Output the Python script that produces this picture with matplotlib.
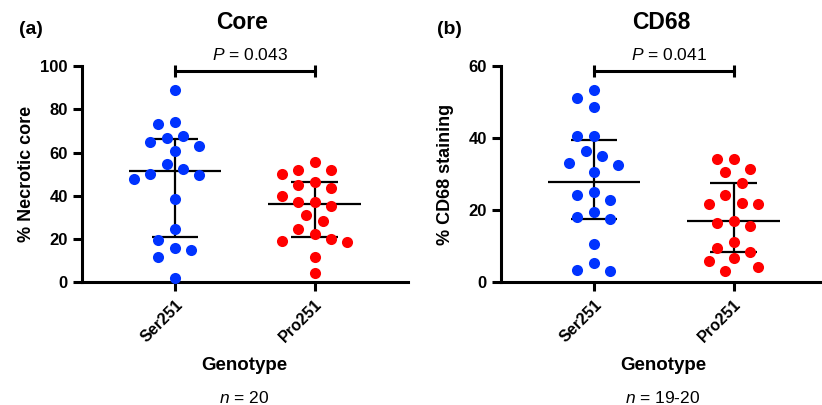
import numpy as np
import matplotlib
matplotlib.use("Agg")
import matplotlib.pyplot as plt

plt.rcParams['font.family'] = ['Liberation Sans', 'DejaVu Sans']
plt.rcParams['mathtext.fontset'] = 'custom'
plt.rcParams['mathtext.it'] = 'Liberation Sans:italic'
plt.rcParams['mathtext.rm'] = 'Liberation Sans'

# data
genotypes = ["Ser251", "Pro251"]
core_ser = [88.9, 73.1, 74.1, 66.7, 67.7, 63.0, 65.0, 60.5, 54.5, 52.6,
            50.2, 49.7, 47.7, 38.7, 24.7, 19.8, 15.0, 15.9, 11.9, 2.0]
core_pro = [55.7, 52.0, 52.0, 46.6, 50.0, 44.9, 43.4, 40.1, 37.0, 37.3,
            35.5, 31.0, 28.4, 24.7, 22.5, 18.8, 20.2, 19.0, 11.7, 4.2]
cd68_ser = [53.3, 51.2, 48.6, 40.6, 40.6, 36.5, 35.0, 33.1, 32.5, 30.6,
            24.2, 25.1, 22.9, 19.4, 17.5, 18.1, 10.6, 5.4, 3.1, 3.4]
cd68_pro = [34.3, 34.3, 31.5, 30.7, 27.6, 24.2, 21.6, 21.6, 22.0, 16.9,
            15.6, 16.5, 9.5, 11.1, 8.3, 5.8, 6.7, 3.1, 4.3]
titles = ["Core", "CD68"]
panel_tags = ["(a)", "(b)"]
ylabels = ["% Necrotic core", "% CD68 staining"]
p_values = ["0.043", "0.041"]
n_labels = ["20", "19-20"]
yticks = [[0, 20, 40, 60, 80, 100], [0, 20, 40, 60]]

colors = ["#0033ff", "#ff0000"]
LW = 2.2


def swarm_x(ax, pos, vals, diam=15.0, step=8.2):
    # simple beeswarm in pixel space, highest value placed first
    vals = np.asarray(vals, float)
    pts = ax.transData.transform(np.column_stack([np.full(len(vals), pos), vals]))
    x0 = pts[0, 0]
    order = np.argsort(-vals, kind="stable")
    placed = []
    xs = np.zeros(len(vals))
    for i in order:
        y = pts[i, 1]
        k = 0
        while True:
            for cand in ([0] if k == 0 else [-k, k]):
                x = x0 + cand * step
                if all((x - px) ** 2 + (y - py) ** 2 >= diam ** 2 for px, py in placed):
                    break
            else:
                k += 1
                continue
            break
        placed.append((x, y))
        xs[i] = x
    return ax.transData.inverted().transform(np.column_stack([xs, pts[:, 1]]))[:, 0]


fig = plt.figure(figsize=(8.22, 4.05), dpi=100)
W, H = 822.0, 405.0
panels = [(core_ser, core_pro), (cd68_ser, cd68_pro)]
lefts = [81.7, 500.7]

for p, (ser, pro) in enumerate(panels):
    ax = fig.add_axes([lefts[p] / W, (H - 282.4) / H, 326 / W, 216.4 / H])
    ax.set_xlim(-0.667, 1.667)
    ax.set_ylim(0, yticks[p][-1])
    for s in ["top", "right"]:
        ax.spines[s].set_visible(False)
    for s in ["left", "bottom"]:
        ax.spines[s].set_linewidth(LW)
    ax.tick_params(width=LW, length=6.5, direction="out")
    ax.set_yticks(yticks[p])
    ax.set_yticklabels([str(t) for t in yticks[p]], fontsize=12, fontweight="bold")
    ax.set_xticks([0, 1])
    ax.set_xticklabels(genotypes, rotation=45, ha="right", va="top",
                       rotation_mode="anchor", fontsize=11.5, fontweight="bold")
    ax.tick_params(axis="x", pad=4)

    for g, vals in enumerate([ser, pro]):
        q1, med, q3 = np.percentile(vals, [25, 50, 75], method="weibull")
        ax.hlines(med, g - 0.33, g + 0.33, color="black", lw=1.6, zorder=2)
        ax.vlines(g, q1, q3, color="black", lw=1.6, zorder=2)
        ax.hlines([q1, q3], g - 0.167, g + 0.167, color="black", lw=1.6, zorder=2)
        xs = swarm_x(ax, g, vals)
        ax.plot(xs, vals, "o", color=colors[g], ms=8, mec="none",
                zorder=3, clip_on=False)

    # significance bracket
    tr = ax.get_xaxis_transform()
    ax.plot([0, 1], [0.978, 0.978], color="black", lw=LW, transform=tr, clip_on=False)
    ax.vlines([0, 1], 0.951, 1.005, color="black", lw=LW, transform=tr, clip_on=False)
    ax.text(0.54, 1.051, "$P$ = " + p_values[p], transform=tr, ha="center",
            va="center", fontsize=12.5)
    ax.text(0.48, 1.199, titles[p], transform=tr, ha="center", va="center",
            fontsize=16.5, fontweight="bold")

    ax.set_ylabel(ylabels[p], fontsize=13, fontweight="bold")
    ax.yaxis.set_label_coords(-0.143, 0.5)
    ax.text(0.498, -0.382, "Genotype", transform=ax.transAxes, ha="center",
            va="center", fontsize=13.5, fontweight="bold")
    ax.text(0.498, -0.534, "$n$ = " + n_labels[p], transform=ax.transAxes,
            ha="center", va="center", fontsize=12.5)
    fig.text((lefts[p] - 51) / W, 1 - 30 / H, panel_tags[p], ha="center",
             va="center", fontsize=14, fontweight="bold")

fig.savefig("out.png", dpi=100)
